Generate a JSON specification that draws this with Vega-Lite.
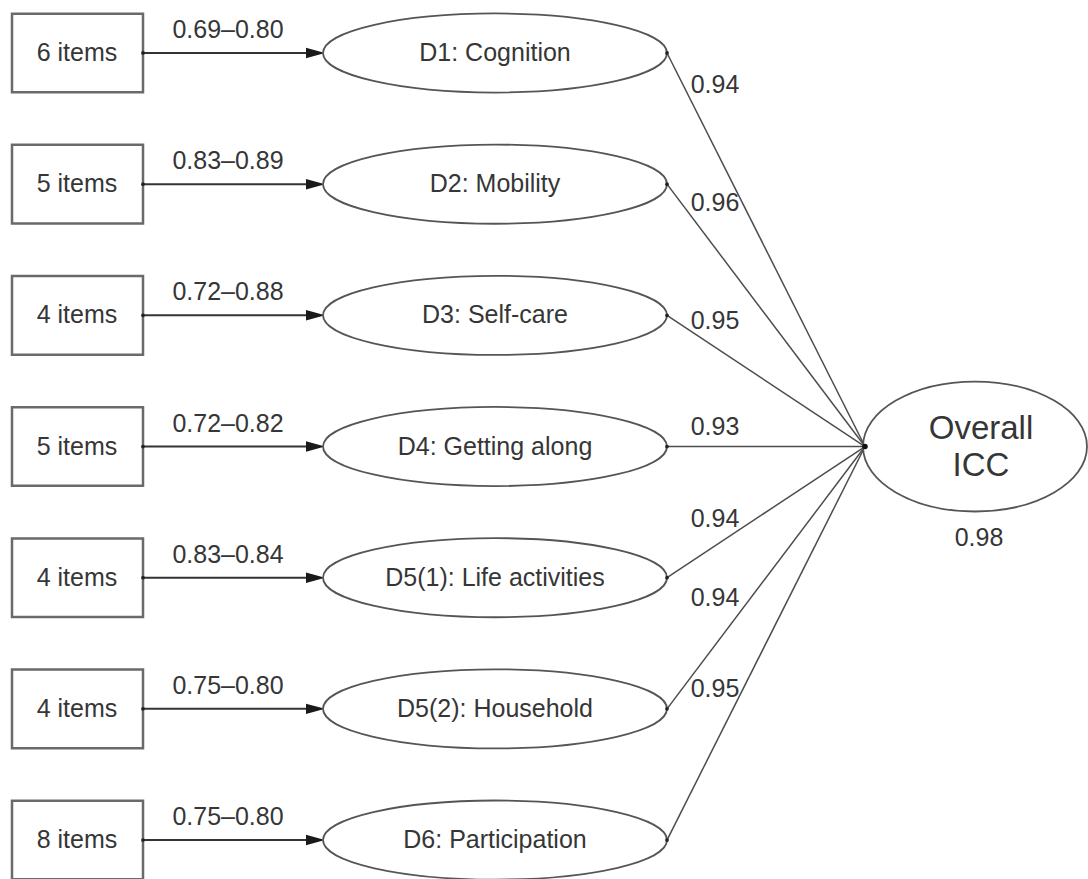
{
  "$schema": "https://vega.github.io/schema/vega-lite/v6.json",
  "width": 1088,
  "height": 879,
  "padding": 0,
  "autosize": {"type": "none"},
  "background": "white",
  "config": {
    "view": {"stroke": null},
    "text": {"font": "Liberation Sans", "fill": "#363636"}
  },
  "datasets": {
    "domains": [
      {"row": 1, "items": "6 items", "range": "0.69–0.80", "domain": "D1: Cognition", "loading": 0.94, "labelRow": 1.244},
      {"row": 2, "items": "5 items", "range": "0.83–0.89", "domain": "D2: Mobility", "loading": 0.96, "labelRow": 2.144},
      {"row": 3, "items": "4 items", "range": "0.72–0.88", "domain": "D3: Self-care", "loading": 0.95, "labelRow": 3.043},
      {"row": 4, "items": "5 items", "range": "0.72–0.82", "domain": "D4: Getting along", "loading": 0.93, "labelRow": 3.851},
      {"row": 5, "items": "4 items", "range": "0.83–0.84", "domain": "D5(1): Life activities", "loading": 0.94, "labelRow": 4.553},
      {"row": 6, "items": "4 items", "range": "0.75–0.80", "domain": "D5(2): Household", "loading": 0.94, "labelRow": 5.155},
      {"row": 7, "items": "8 items", "range": "0.75–0.80", "domain": "D6: Participation", "loading": 0.95, "labelRow": 5.849}
    ],
    "overall": [
      {"row": 4, "label": "Overall\nICC", "icc": 0.98}
    ]
  },
  "layer": [
    {
      "data": {"name": "domains"},
      "mark": {"type": "rule", "stroke": "#4d4d4d", "strokeWidth": 1.5},
      "encoding": {
        "x": {"datum": 667, "type": "quantitative", "scale": {"domain": [0, 1088], "nice": false, "zero": false}, "axis": null},
        "x2": {"datum": 865},
        "y": {"field": "row", "type": "quantitative", "scale": {"domain": [0.596, 7.297], "reverse": true, "nice": false, "zero": false}, "axis": null},
        "y2": {"datum": 4}
      }
    },
    {
      "data": {"name": "domains"},
      "mark": {"type": "rule", "stroke": "#333333", "strokeWidth": 2},
      "encoding": {
        "x": {"datum": 143, "type": "quantitative"},
        "x2": {"datum": 310},
        "y": {"field": "row", "type": "quantitative"}
      }
    },
    {
      "data": {"name": "domains"},
      "mark": {"type": "point", "shape": "M-1,-0.55L1,0L-1,0.55Z", "size": 361, "filled": true, "fill": "#1a1a1a", "opacity": 1, "strokeWidth": 0},
      "encoding": {
        "x": {"datum": 315.5, "type": "quantitative"},
        "y": {"field": "row", "type": "quantitative"}
      }
    },
    {
      "data": {"name": "domains"},
      "mark": {"type": "point", "shape": "M-1,-0.6L1,-0.6L1,0.6L-1,0.6Z", "size": 17161, "filled": true, "fill": "white", "stroke": "#6a6a6a", "strokeWidth": 2.5, "opacity": 1},
      "encoding": {
        "x": {"datum": 77.5, "type": "quantitative"},
        "y": {"field": "row", "type": "quantitative"}
      }
    },
    {
      "data": {"name": "domains"},
      "mark": {"type": "point", "shape": "M-1,0A1,0.23,0,1,0,1,0A1,0.23,0,1,0,-1,0Z", "size": 118336, "filled": true, "fill": "white", "stroke": "#555555", "strokeWidth": 1.8, "opacity": 1},
      "encoding": {
        "x": {"datum": 495, "type": "quantitative"},
        "y": {"field": "row", "type": "quantitative"}
      }
    },
    {
      "data": {"name": "overall"},
      "mark": {"type": "point", "shape": "M-1,0A1,0.58,0,1,0,1,0A1,0.58,0,1,0,-1,0Z", "size": 50176, "filled": true, "fill": "white", "stroke": "#555555", "strokeWidth": 1.8, "opacity": 1},
      "encoding": {
        "x": {"datum": 975, "type": "quantitative"},
        "y": {"field": "row", "type": "quantitative"}
      }
    },
    {
      "data": {"name": "domains"},
      "mark": {"type": "point", "shape": "circle", "size": 14, "filled": true, "fill": "#222222", "opacity": 1, "strokeWidth": 0},
      "encoding": {
        "x": {"datum": 143, "type": "quantitative"},
        "y": {"field": "row", "type": "quantitative"}
      }
    },
    {
      "data": {"name": "domains"},
      "mark": {"type": "point", "shape": "circle", "size": 14, "filled": true, "fill": "#222222", "opacity": 1, "strokeWidth": 0},
      "encoding": {
        "x": {"datum": 667, "type": "quantitative"},
        "y": {"field": "row", "type": "quantitative"}
      }
    },
    {
      "data": {"name": "overall"},
      "mark": {"type": "point", "shape": "circle", "size": 30, "filled": true, "fill": "#111111", "opacity": 1, "strokeWidth": 0},
      "encoding": {
        "x": {"datum": 865, "type": "quantitative"},
        "y": {"field": "row", "type": "quantitative"}
      }
    },
    {
      "data": {"name": "domains"},
      "mark": {"type": "text", "fontSize": 25, "align": "center", "baseline": "middle"},
      "encoding": {
        "x": {"datum": 77, "type": "quantitative"},
        "y": {"field": "row", "type": "quantitative"},
        "text": {"field": "items"}
      }
    },
    {
      "data": {"name": "domains"},
      "mark": {"type": "text", "fontSize": 25, "align": "center", "baseline": "middle", "dy": -23},
      "encoding": {
        "x": {"datum": 228, "type": "quantitative"},
        "y": {"field": "row", "type": "quantitative"},
        "text": {"field": "range"}
      }
    },
    {
      "data": {"name": "domains"},
      "mark": {"type": "text", "fontSize": 25, "align": "center", "baseline": "middle"},
      "encoding": {
        "x": {"datum": 495, "type": "quantitative"},
        "y": {"field": "row", "type": "quantitative"},
        "text": {"field": "domain"}
      }
    },
    {
      "data": {"name": "domains"},
      "mark": {"type": "text", "fontSize": 25, "align": "center", "baseline": "middle"},
      "encoding": {
        "x": {"datum": 715, "type": "quantitative"},
        "y": {"field": "labelRow", "type": "quantitative"},
        "text": {"field": "loading", "format": ".2f"}
      }
    },
    {
      "data": {"name": "overall"},
      "mark": {"type": "text", "fontSize": 33, "align": "center", "baseline": "middle", "lineBreak": "\n", "lineHeight": 37, "dy": -18},
      "encoding": {
        "x": {"datum": 981, "type": "quantitative"},
        "y": {"field": "row", "type": "quantitative"},
        "text": {"field": "label"}
      }
    },
    {
      "data": {"name": "overall"},
      "mark": {"type": "text", "fontSize": 25, "align": "center", "baseline": "middle", "dy": 91},
      "encoding": {
        "x": {"datum": 979, "type": "quantitative"},
        "y": {"field": "row", "type": "quantitative"},
        "text": {"field": "icc", "format": ".2f"}
      }
    }
  ]
}
